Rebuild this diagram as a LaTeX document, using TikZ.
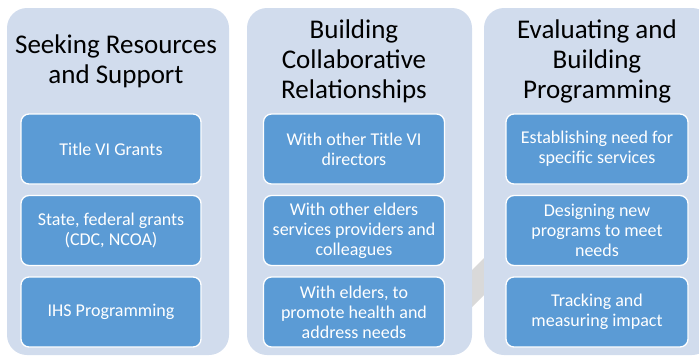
\documentclass[tikz,border=0pt]{standalone}
\usepackage{fontspec}
\setmainfont{Carlito}
\definecolor{colfill}{RGB}{209,220,237}
\definecolor{boxfill}{RGB}{91,155,213}
\definecolor{bandgray}{RGB}{217,217,217}
\tikzset{
  column/.style={fill=colfill, rounded corners=20pt},
  item/.style={draw=white, line width=1.3pt, fill=boxfill, rounded corners=8pt,
    minimum height=70pt, text=white, align=center, inner sep=2pt,
    font=\fontsize{18pt}{20pt}\selectfont},
  title/.style={align=center, text=black, font=\fontsize{27pt}{30pt}\selectfont}
}
\begin{document}
\begin{tikzpicture}[x=1pt,y=-1pt]
\useasboundingbox (0,0) rectangle (699,356);
\clip (0,0) rectangle (699,356);
% background gray band
\fill[bandgray] (455,287) -- (500,242) -- (500,279) -- (455,324) -- cycle;
% columns
\fill[column] (7,8) rectangle (229,355);
\fill[column] (247,8) rectangle (472,355);
\fill[column] (484,8) rectangle (712,355);
% titles
\node[title] (t1) at (116,61) {Seeking Resources\\and Support};
\node[title] (t2) at (354,61) {Building\\Collaborative\\Relationships};
\node[title] (t3) at (597,61) {Evaluating and\\Building\\Programming};
% column 1 boxes
\node[item, minimum width=180pt] (a1) at (111,149) {Title VI Grants};
\node[item, minimum width=180pt] (a2) at (111,230.5) {State, federal grants\\(CDC, NCOA)};
\node[item, minimum width=180pt] (a3) at (111,312) {IHS Programming};
% column 2 boxes
\node[item, minimum width=181pt] (b1) at (354,149) {With other Title VI\\directors};
\node[item, minimum width=181pt] (b2) at (354,230.5) {With other elders\\services providers and\\colleagues};
\node[item, minimum width=181pt] (b3) at (354,312) {With elders, to\\promote health and\\address needs};
% column 3 boxes
\node[item, minimum width=182pt] (c1) at (597,149) {Establishing need for\\specific services};
\node[item, minimum width=182pt] (c2) at (597,230.5) {Designing new\\programs to meet\\needs};
\node[item, minimum width=182pt] (c3) at (597,312) {Tracking and\\measuring impact};
\end{tikzpicture}
\end{document}
